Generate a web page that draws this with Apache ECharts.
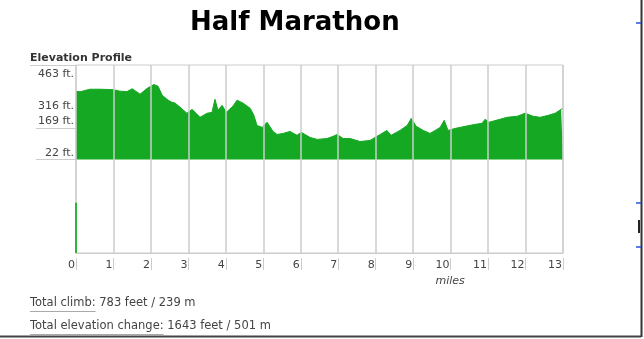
<!DOCTYPE html>
<html>
<head>
<meta charset="utf-8">
<script src="https://cdn.jsdelivr.net/npm/echarts@6/dist/echarts.min.js"></script>
<style>
html,body{margin:0;padding:0;background:#fff;}
#chart{width:644px;height:339px;}
</style>
</head>
<body>
<div id="chart"></div>
<script>
// ---- data ----
const miles = [0, 0.05, 0.11, 0.37, 0.64, 0.99, 1.17, 1.36, 1.50, 1.71, 1.90, 2.08, 2.19, 2.30, 2.46, 2.56, 2.64, 2.78, 2.96, 3.10, 3.31, 3.50, 3.63, 3.71, 3.79, 3.90, 4.01, 4.19, 4.30, 4.46, 4.65, 4.75, 4.83, 4.97, 5.10, 5.26, 5.37, 5.53, 5.71, 5.90, 6.01, 6.25, 6.44, 6.70, 6.86, 6.97, 7.13, 7.32, 7.58, 7.85, 8.12, 8.30, 8.41, 8.65, 8.84, 8.95, 9.08, 9.27, 9.45, 9.59, 9.72, 9.83, 9.93, 10.12, 10.39, 10.65, 10.84, 10.92, 11.03, 11.32, 11.51, 11.78, 11.99, 12.20, 12.39, 12.60, 12.79, 12.95, 13.0];
const elevFt = [340, 342, 338, 350, 350, 348, 341, 339, 352, 327, 354, 372, 364, 322, 299, 289, 286, 266, 238, 256, 219, 238, 242, 303, 252, 275, 242, 271, 299, 285, 261, 228, 181, 172, 196, 153, 139, 144, 153, 135, 149, 125, 116, 120, 130, 139, 120, 120, 106, 111, 139, 158, 135, 158, 181, 214, 177, 158, 144, 158, 172, 205, 158, 167, 177, 186, 191, 210, 196, 210, 219, 224, 238, 224, 219, 228, 238, 256, 262];
const spikeMiles = [0, 0];
const spikeFt = [-414, -180];
const yTickValues = [463, 316, 169, 22];
const yTickLabels = ['463 ft.', '316 ft.', '169 ft.', '22 ft.'];
const xTickValues = [0, 1, 2, 3, 4, 5, 6, 7, 8, 9, 10, 11, 12, 13];
const titleText = 'Half Marathon';
const subTitle = 'Elevation Profile';
const xName = 'miles';
const footLines = ['Total climb: 783 feet / 239 m', 'Total elevation change: 1643 feet / 501 m'];
const footLabels = ['Total climb:', 'Total elevation change:'];

// ---- chart ----
const GREEN = '#14a823';
const GRID = '#cccccc';
const YMIN = -414, YMAX = 463;
const fmtY = v => yTickLabels[yTickValues.indexOf(v)];
const font = '"DejaVu Sans", Verdana, sans-serif';
const footFont = '11.5px ' + font;

const measure = (() => {
  const c = document.createElement('canvas').getContext('2d');
  return (t, f) => { c.font = f; return c.measureText(t).width; };
})();

const chart = echarts.init(document.getElementById('chart'), null, {renderer: 'canvas'});
const yBase = {
  type: 'value', min: YMIN, max: YMAX, position: 'left',
  axisLine: {show: false}, splitLine: {show: false}
};
chart.setOption({
  animation: false,
  backgroundColor: '#fff',
  title: {
    text: titleText, left: 185, top: 5,
    textStyle: {fontFamily: font, fontWeight: 'bold', fontSize: 26, color: '#000'}
  },
  grid: {left: 76, right: 81, top: 65, bottom: 86, show: true, borderColor: GRID, borderWidth: 1, backgroundColor: 'transparent'},
  xAxis: [{
    type: 'value', min: 0, max: 13, interval: 1, z: 5,
    axisLine: {show: true, onZero: false, lineStyle: {color: GRID}},
    axisTick: {show: false},
    splitLine: {show: true, lineStyle: {color: GRID, width: 1.5}},
    axisLabel: {
      customValues: xTickValues, margin: 7, align: 'right', padding: [0, 1, 0, 0],
      fontFamily: font, fontSize: 11, color: '#444'
    },
    name: xName, nameLocation: 'middle', nameGap: 20,
    nameTextStyle: {fontFamily: font, fontSize: 11, fontStyle: 'italic', color: '#444', align: 'left', padding: [0, 0, 0, 116]}
  }, {
    type: 'value', min: 0, max: 13, interval: 1, position: 'bottom', offset: 5,
    axisLine: {show: false, onZero: false}, splitLine: {show: false},
    axisLabel: {show: true, color: 'rgba(0,0,0,0)'},
    axisTick: {show: true, length: 12, lineStyle: {color: GRID}}
  }],
  yAxis: [
    Object.assign({}, yBase, {
      axisTick: {show: true, customValues: [463], length: 46, lineStyle: {color: GRID}},
      axisLabel: {customValues: [463, 316], formatter: fmtY, verticalAlign: 'top', margin: 2,
        padding: [4, 0, 0, 0], fontFamily: font, fontSize: 11, color: '#444'}
    }),
    Object.assign({}, yBase, {
      axisTick: {show: true, customValues: [169, 22], length: 40, lineStyle: {color: GRID}},
      axisLabel: {customValues: [169, 22], formatter: fmtY, verticalAlign: 'bottom', margin: 2,
        padding: [0, 0, 1, 0], fontFamily: font, fontSize: 11, color: '#444'}
    })
  ],
  series: [{
    type: 'line', xAxisIndex: 0, yAxisIndex: 0,
    data: miles.map((m, i) => [m, elevFt[i]]),
    showSymbol: false, symbol: 'none',
    lineStyle: {color: GREEN, width: 1},
    areaStyle: {color: GREEN, opacity: 1, origin: 22}
  }, {
    type: 'line', xAxisIndex: 0, yAxisIndex: 0, z: 6,
    data: spikeMiles.map((m, i) => [m, spikeFt[i]]),
    showSymbol: false, symbol: 'none',
    lineStyle: {color: '#2fb43a', width: 2}
  }],
  graphic: [
    {type: 'text', left: 30, top: 53, style: {text: subTitle, font: 'bold 11px ' + font, fill: '#333'}},
    {type: 'text', left: 30, top: 297, style: {text: footLines[0], font: footFont, fill: '#444'}},
    {type: 'text', left: 30, top: 320, style: {text: footLines[1], font: footFont, fill: '#444'}},
    {type: 'line', shape: {x1: 30, y1: 311.5, x2: 30 + measure(footLabels[0], footFont), y2: 311.5}, style: {stroke: '#aaa', lineWidth: 1}},
    {type: 'line', shape: {x1: 30, y1: 334.5, x2: 30 + measure(footLabels[1], footFont), y2: 334.5}, style: {stroke: '#aaa', lineWidth: 1}},
    {type: 'line', shape: {x1: 0, y1: 336.5, x2: 641, y2: 336.5}, style: {stroke: '#444', lineWidth: 2}},
    {type: 'line', shape: {x1: 641.5, y1: 0, x2: 641.5, y2: 337}, style: {stroke: '#333', lineWidth: 2}},
    {type: 'line', shape: {x1: 636, y1: 23, x2: 641, y2: 23}, style: {stroke: '#2255dd', lineWidth: 1.5}},
    {type: 'line', shape: {x1: 636, y1: 203, x2: 641, y2: 203}, style: {stroke: '#2255dd', lineWidth: 1.5}},
    {type: 'line', shape: {x1: 636, y1: 247, x2: 641, y2: 247}, style: {stroke: '#2255dd', lineWidth: 1.5}},
    {type: 'line', shape: {x1: 639, y1: 220, x2: 639, y2: 233}, style: {stroke: '#222', lineWidth: 2}}
  ]
});
</script>
</body>
</html>
